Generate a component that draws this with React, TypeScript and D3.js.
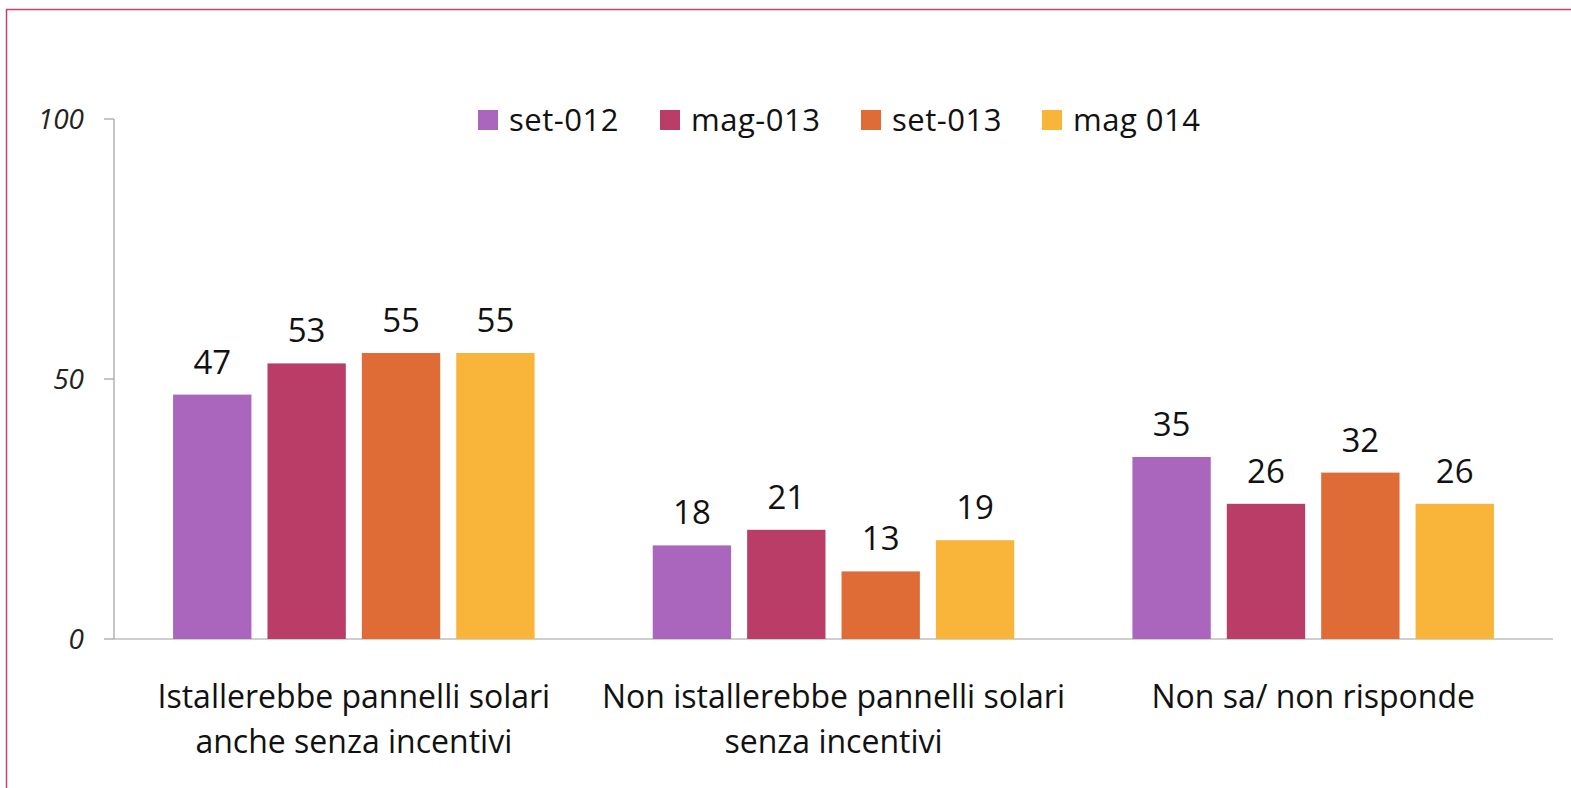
import React from "react";
import * as d3 from "d3";

const categories = [
  ["Istallerebbe pannelli solari", "anche senza incentivi"],
  ["Non istallerebbe pannelli solari", "senza incentivi"],
  ["Non sa/ non risponde"],
];
const seriesNames = ["set-012", "mag-013", "set-013", "mag 014"];
const seriesColors = ["#A966BC", "#B93D66", "#DF6B36", "#F9B53A"];
const set012 = [47, 18, 35];
const mag013 = [53, 21, 26];
const set013 = [55, 13, 32];
const mag014 = [55, 19, 26];
const seriesValues = [set012, mag013, set013, mag014];
const yTicks = [0, 50, 100];

const W = 1571;
const H = 788;
const FONT = "'Open Sans', 'DejaVu Sans', sans-serif";

export default function App() {
  const left = 114;
  const right = 1553;
  const top = 119;
  const bottom = 639;
  const y = d3.scaleLinear().domain([0, 100]).range([bottom, top]);
  const x0 = d3
    .scaleBand<number>()
    .domain(categories.map((_, i) => i))
    .range([left, right])
    .paddingInner(0)
    .paddingOuter(0);
  const groupW = 361.5;
  const x1 = d3
    .scaleBand<number>()
    .domain(seriesNames.map((_, i) => i))
    .range([0, groupW])
    .paddingInner(0.17)
    .paddingOuter(0);
  const groupOffset = (x0.bandwidth() - groupW) / 2;
  const legendX = [478, 660, 861, 1042];

  return (
    <svg
      width={W}
      height={H}
      style={{ position: "fixed", left: 0, top: 0, background: "#fff" }}
      fontFamily={FONT}
    >
      <rect x={6.5} y={9.5} width={2000} height={2000} fill="none" stroke="#C8426E" strokeWidth={1.5} />
      {/* y axis */}
      <line x1={left} x2={left} y1={top} y2={bottom} stroke="#A0A0A0" strokeWidth={1.2} />
      {yTicks.map((t) => (
        <g key={t}>
          <line x1={left - 10} x2={left} y1={y(t)} y2={y(t)} stroke="#A0A0A0" strokeWidth={1.2} />
          <text x={84} y={y(t) + 10} textAnchor="end" fontSize={28} fontStyle="italic" fill="#222">
            {t}
          </text>
        </g>
      ))}
      {/* x axis */}
      <line x1={left} x2={right} y1={bottom} y2={bottom} stroke="#A0A0A0" strokeWidth={1.2} />
      {/* bars */}
      {categories.map((cat, ci) =>
        seriesValues.map((vals, si) => {
          const bx = (x0(ci) as number) + groupOffset + (x1(si) as number);
          const bw = x1.bandwidth();
          const v = vals[ci];
          const cx = bx + bw / 2;
          return (
            <g key={`${ci}-${si}`}>
              <rect x={bx} y={y(v)} width={bw} height={bottom - y(v)} fill={seriesColors[si]} />
              <text x={cx} y={y(v) - 21} textAnchor="middle" fontSize={33} fill="#111">
                {v}
              </text>
            </g>
          );
        })
      )}
      {/* category labels */}
      {categories.map((lines, ci) => {
        const cx = (x0(ci) as number) + x0.bandwidth() / 2;
        return (
          <text key={ci} textAnchor="middle" fontSize={32} fill="#111">
            {lines.map((l, li) => (
              <tspan key={li} x={cx} y={708 + li * 45}>
                {l}
              </tspan>
            ))}
          </text>
        );
      })}
      {/* legend */}
      {seriesNames.map((n, i) => (
        <g key={n}>
          <rect x={legendX[i]} y={110} width={20} height={20} fill={seriesColors[i]} />
          <text x={legendX[i] + 31} y={131} fontSize={31} letterSpacing={0.5} fill="#111">
            {n}
          </text>
        </g>
      ))}
    </svg>
  );
}
